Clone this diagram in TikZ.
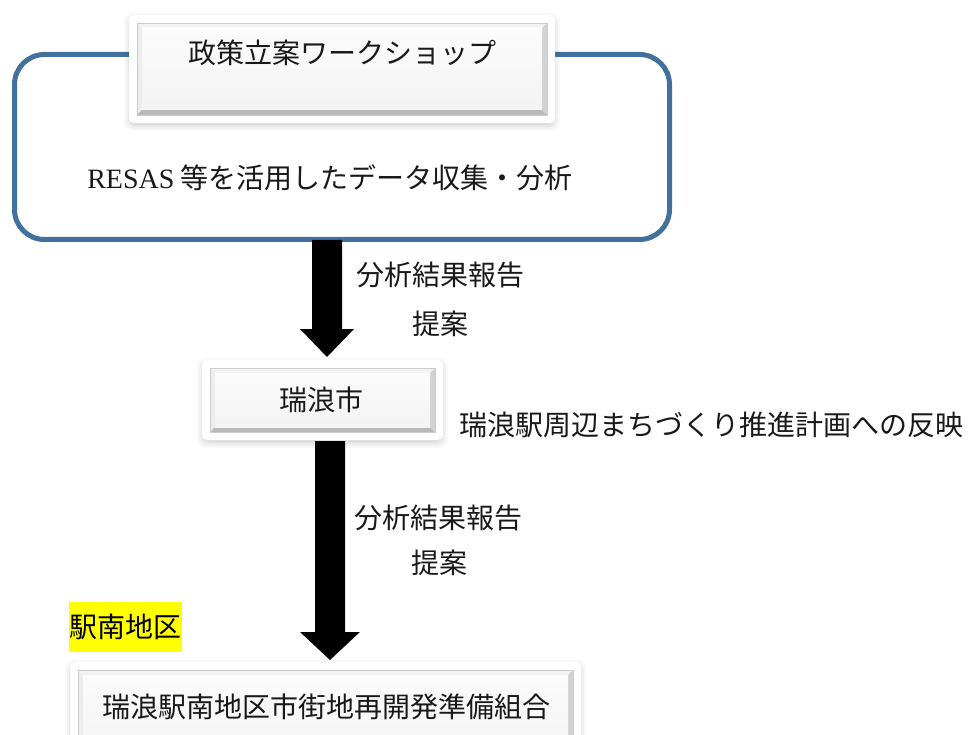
\documentclass[tikz,border=0pt]{standalone}
\usepackage{fontspec}
\setmainfont{Liberation Serif}
\newfontfamily\jp{Noto Sans CJK JP}
\usetikzlibrary{calc}
\definecolor{frameblue}{RGB}{65,113,156}
\definecolor{hlyellow}{RGB}{255,255,0}
\tikzset{
  jtext/.style={font=\jp\fontsize{28}{33}\selectfont, inner sep=0pt, text=black!90},
  faceanchor/.style={inner sep=0pt, outer sep=0pt},
  wsframe/.style={draw=frameblue, line width=5pt, rounded corners=30pt, inner sep=0pt},
  hlbox/.style={fill=hlyellow, inner sep=0pt, font=\jp\fontsize{28}{33}\selectfont},
}
% #1 name, (#2,#3) top-left of bevel, (#4,#5) bottom-right of bevel
\newcommand\facebox[5]{%
  \foreach \k/\o in {13/0.025,11/0.03,9/0.04,7/0.05}{%
    \fill[black,opacity=\o,rounded corners=8pt] (#2-\k,#3-\k+3) rectangle (#4+\k,#5+\k+3);}
  \fill[white,rounded corners=5pt] (#2-8,#3-8) rectangle (#4+8,#5+8);
  \fill[gray!10] (#2,#3) -- (#4,#3) -- (#4-5,#3+5) -- (#2+5,#3+5) -- cycle;
  \fill[gray!14] (#2,#3) -- (#2+5,#3+5) -- (#2+5,#5-5) -- (#2,#5) -- cycle;
  \fill[gray!55] (#2,#5) -- (#2+5,#5-5) -- (#4-5,#5-5) -- (#4,#5) -- cycle;
  \fill[gray!35] (#4,#3) -- (#4,#5) -- (#4-5,#5-5) -- (#4-5,#3+5) -- cycle;
  \shade[top color=gray!3, bottom color=gray!9] (#2+5,#3+5) rectangle (#4-5,#5-5);
  \draw[gray!40, line width=0.6pt] (#2,#3) rectangle (#4,#5);
  \node[faceanchor, minimum width={(#4-#2)*1pt}, minimum height={(#5-#3)*1pt}] (#1) at ({(#2+#4)/2},{(#3+#5)/2}) {};
}
% big block arrow from #1 (shaft top centre) to #2 (tip)
\newcommand\bigarrow[4]{% #1 start, #2 tip, #3 half shaft, #4 half head
  \fill[black] ($(#1)+(-#3,0)$) -- ($(#2)+(-#3,-28)$) -- ($(#2)+(-#4,-28)$) -- (#2)
    -- ($(#2)+(#4,-28)$) -- ($(#2)+(#3,-28)$) -- ($(#1)+(#3,0)$) -- cycle;}
\begin{document}
\begin{tikzpicture}[x=1pt,y=-1pt]
\useasboundingbox (0,0) rectangle (969,735);
\fill[white] (0,0) rectangle (969,735);

% workshop frame
\node[wsframe, minimum width=655pt, minimum height=185pt] (ws) at (342,147) {};
\node[jtext] (resas) at (330,178) {{\rmfamily RESAS} 等を活用したデータ収集・分析};

% title box
\facebox{wsbox}{137}{23}{547}{115}
\node[jtext] (wstitle) at (342,53) {政策立案ワークショップ};

% arrow 1
\coordinate (a1s) at (327,240);
\coordinate (a1e) at (327,357);
\bigarrow{a1s}{a1e}{15}{27}
\node[jtext] (lab1a) at (440,275) {分析結果報告};
\node[jtext] (lab1b) at (440,324) {提案};

% city box
\facebox{city}{210}{368}{435}{432}
\node[jtext] (citytext) at (321,400) {瑞浪市};
\node[jtext] (reflect) at (711,425) {瑞浪駅周辺まちづくり推進計画への反映};

% arrow 2
\coordinate (a2s) at (330,441);
\coordinate (a2e) at (330,660);
\bigarrow{a2s}{a2e}{15}{30}
\node[jtext] (lab2a) at (438,518) {分析結果報告};
\node[jtext] (lab2b) at (439,563) {提案};

% highlight
\node[hlbox, minimum width=113pt, minimum height=50pt] (ekinan) at (125.5,627) {駅南地区};

% bottom box
\facebox{kumiai}{78}{670}{573}{760}
\node[jtext] (kumiaitext) at (326,707) {瑞浪駅南地区市街地再開発準備組合};
\end{tikzpicture}
\end{document}
